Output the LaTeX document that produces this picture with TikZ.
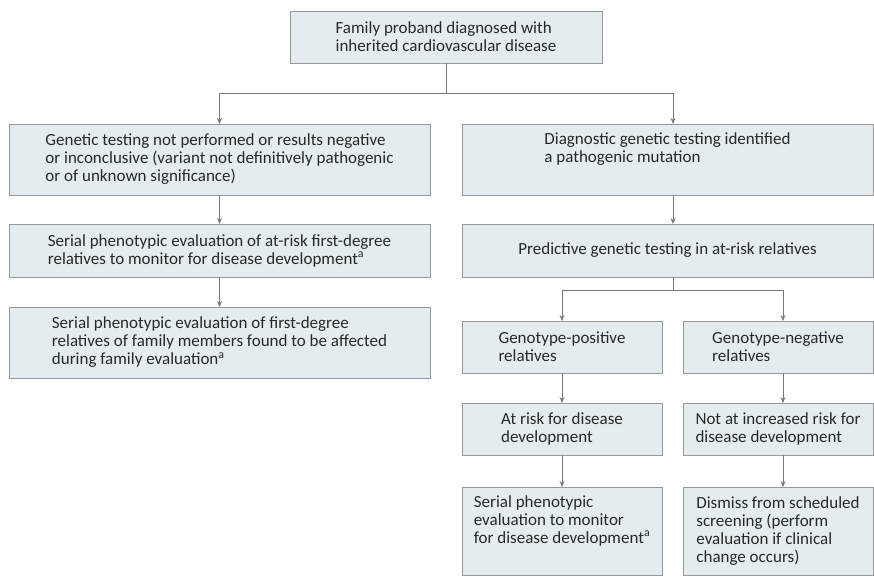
\documentclass[tikz,border=0pt]{standalone}
\usepackage{fontspec}
\setmainfont{Carlito}
\usetikzlibrary{arrows.meta,positioning}
\definecolor{boxfill}{RGB}{229,236,240}
\definecolor{boxline}{RGB}{150,152,154}
\definecolor{flowgray}{RGB}{118,120,122}
\definecolor{inkdark}{RGB}{40,40,40}
\tikzset{
  stepbox/.style={draw=boxline,line width=0.9pt,fill=boxfill,align=left,
    inner sep=0pt,outer sep=0pt,anchor=north west,text=inkdark,
    font=\fontsize{17}{18}\selectfont},
  colbox/.style={stepbox,minimum width=421pt},
  rcolbox/.style={stepbox,minimum width=411pt},
  halfbox/.style={stepbox,minimum width=200pt},
  narrowbox/.style={stepbox,minimum width=190pt},
  link/.style={line width=0.9pt,draw=flowgray},
  flow/.style={-{Stealth[length=6pt,width=5pt]},line width=0.9pt,draw=flowgray}
}
\begin{document}
\begin{tikzpicture}[x=1pt,y=-1pt]
  \useasboundingbox (0,0) rectangle (874,576);
  % proband
  \node[stepbox,minimum width=312pt,minimum height=52pt] (proband) at (290,11)
    {Family proband diagnosed with\\inherited cardiovascular disease};
  % left branch
  \node[colbox,minimum height=71pt] (notest) at (9,124)
    {Genetic testing not performed or results negative\\or inconclusive (variant not definitively pathogenic\\or of unknown significance)};
  \node[colbox,minimum height=53pt] (serialrisk) at (9,224)
    {Serial phenotypic evaluation of at-risk first-degree\\relatives to monitor for disease development\textsuperscript{a}};
  \node[colbox,minimum height=71pt] (serialfam) at (9,307)
    {Serial phenotypic evaluation of first-degree\\relatives of family members found to be affected\\during family evaluation\textsuperscript{a}};
  % right branch
  \node[rcolbox,minimum height=71pt] (mutation) at (462,124)
    {Diagnostic genetic testing identified\\a pathogenic mutation\\\strut};
  \node[rcolbox,minimum height=53pt] (predict) at (462,224)
    {Predictive genetic testing in at-risk relatives};
  \node[halfbox,minimum height=52pt] (genopos) at (462,321)
    {Genotype-positive\\relatives};
  \node[narrowbox,minimum height=52pt] (genoneg) at (683,321)
    {Genotype-negative\\relatives};
  \node[halfbox,minimum height=52pt] (atrisk) at (462,403)
    {At risk for disease\\development};
  \node[narrowbox,minimum height=52pt] (norisk) at (683,403)
    {Not at increased risk for\\disease development};
  \node[halfbox,minimum height=88pt] (monitor) at (462,487)
    {Serial phenotypic\\evaluation to monitor\\for disease development\textsuperscript{a}\\\strut};
  \node[narrowbox,minimum height=88pt] (dismiss) at (683,487)
    {Dismiss from scheduled\\screening (perform\\evaluation if clinical\\change occurs)};
  % connectors
  \coordinate (split) at (446,93);
  \coordinate (rcol) at (673,0);
  \coordinate (fork) at (673,290);
  \coordinate (ncol) at (783,0);
  \draw[link] (proband.south) -- (split);
  \draw[flow] (split) -| (notest.north);
  \draw[flow] (split) -| (mutation.north -| rcol);
  \draw[flow] (notest.south) -- (serialrisk.north);
  \draw[flow] (serialrisk.south) -- (serialfam.north);
  \draw[flow] (mutation.south -| rcol) -- (predict.north -| rcol);
  \draw[link] (predict.south -| rcol) -- (fork);
  \draw[flow] (fork) -| (genopos.north);
  \draw[flow] (fork) -| (genoneg.north -| ncol);
  \draw[flow] (genopos.south) -- (atrisk.north);
  \draw[flow] (atrisk.south) -- (monitor.north);
  \draw[flow] (genoneg.south -| ncol) -- (norisk.north -| ncol);
  \draw[flow] (norisk.south -| ncol) -- (dismiss.north -| ncol);
\end{tikzpicture}
\end{document}
